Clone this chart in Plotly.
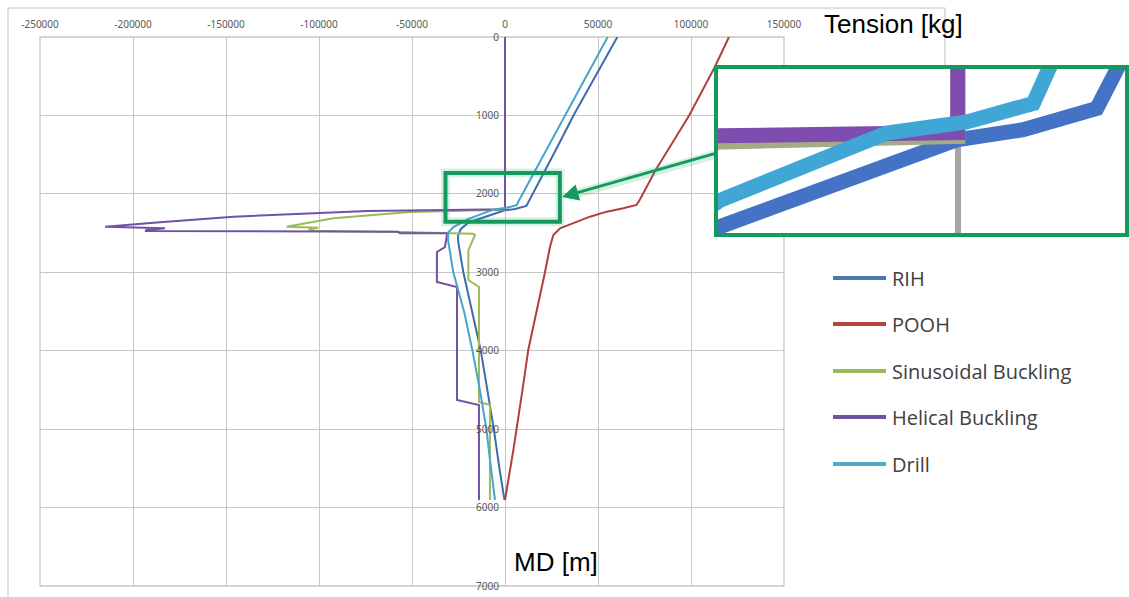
import plotly.graph_objects as go

W, H = 1129, 597

# ---- hook-load tension [kg] versus measured depth [m] ----
series_names = ["RIH", "POOH", "Sinusoidal Buckling", "Helical Buckling", "Drill"]

rih_kg = [60400, 48600, 36800, 27300, 19700, 13150, 11500, 5420, -70, -19660,
          -23800, -25300, -25100, -22400, -17500, -13000, -9500, -6000, -3000, -300]
rih_md = [0, 500, 1000, 1441, 1780, 2085, 2154, 2192, 2210, 2365,
          2450, 2540, 2620, 3000, 3500, 4000, 4500, 5000, 5500, 5903]

pooh_kg = [120400, 112800, 99000, 90800, 81000, 72400, 70700, 63600, 54700, 45700,
           36700, 29600, 26000, 24200, 21500, 17000, 12500, 9400, 6300, 4500, 0]
pooh_md = [0, 383, 1000, 1313, 1696, 2078, 2142, 2184, 2227, 2291,
           2376, 2439, 2525, 2674, 3000, 3500, 3991, 4500, 4990, 5266, 5903]

sin_kg = [0, 0, -51100, -92300, -117400, -100400, -105500, -104500, -56000, -17200,
          -16100, -18800, -19700, -19700, -14000, -14000, -8100, -8100]
sin_md = [0, 2204, 2230, 2312, 2419, 2431, 2455, 2470, 2485, 2508,
          2525, 2674, 2717, 3099, 3188, 4654, 4692, 5903]

hel_kg = [0, 0, -74000, -146000, -185500, -215000, -182800, -192600, -193500, -57500,
          -56500, -31300, -31200, -32300, -36600, -36600, -25800, -25800, -14000, -14000]
hel_md = [0, 2197, 2219, 2291, 2363, 2419, 2439, 2461, 2474, 2482,
          2503, 2503, 2525, 2678, 2741, 3124, 3188, 4628, 4692, 5903]

drill_kg = [55200, 43700, 32000, 22300, 14500, 7500, 6250, 740, -5880, -19660,
            -27500, -30500, -30600, -27800, -22000, -17500, -13500, -10000, -7500, -5400]
drill_md = [0, 500, 1000, 1441, 1780, 2085, 2145, 2178, 2198, 2318,
            2420, 2490, 2590, 3000, 3500, 4000, 4500, 5000, 5500, 5903]

x_ticks = [-250000, -200000, -150000, -100000, -50000, 0, 50000, 100000, 150000]
y_ticks = [0, 1000, 2000, 3000, 4000, 5000, 6000, 7000]

# zoomed detail window around the buckling onset
zoom_kg = [-20000, 14000]
zoom_md = [2080, 2380]
# region marked on the main plot
mark_kg = [-32000, 29500]
mark_md = [1735, 2355]

line_colors = ["#3E6CAD", "#B0403C", "#9BBB59", "#7252A4", "#45A6CA"]
inset_colors = ["#4472C4", "#B0403C", "#A4AC86", "#7E4DAF", "#3FA6D6"]
legend_colors = ["#4A79AD", "#B5453F", "#9BBB59", "#6E54A0", "#4BACC6"]
green = "#14995F"
grid = "#C6C6C6"
tick_font = dict(family="Noto Sans", size=10, color="#595959")


def px(x):
    return x / W


def py(y):
    return 1 - y / H


series = [(rih_kg, rih_md), (pooh_kg, pooh_md), (sin_kg, sin_md),
          (hel_kg, hel_md), (drill_kg, drill_md)]

fig = go.Figure()

for name, (kg, md), col in zip(series_names, series, line_colors):
    fig.add_trace(go.Scatter(x=kg, y=md, mode="lines", name=name,
                             line=dict(color=col, width=2),
                             xaxis="x", yaxis="y", showlegend=False))

for name, (kg, md), col in zip(series_names, series, inset_colors):
    fig.add_trace(go.Scatter(x=kg, y=md, mode="lines", name=name,
                             line=dict(color=col, width=15),
                             xaxis="x2", yaxis="y2", showlegend=False))

shapes = [
    # plot-area frame
    dict(type="rect", xref="x domain", yref="y domain", x0=0, x1=1, y0=0, y1=1,
         line=dict(color=grid, width=1.3), layer="below"),
    # chart-area border
    dict(type="line", xref="paper", yref="paper", x0=px(8), x1=px(8), y0=py(8), y1=0,
         line=dict(color="#BFBFBF", width=1)),
    dict(type="line", xref="paper", yref="paper", x0=px(8), x1=px(945), y0=py(8), y1=py(8),
         line=dict(color="#BFBFBF", width=1)),
    dict(type="line", xref="paper", yref="paper", x0=px(945), x1=px(945), y0=py(8), y1=py(67),
         line=dict(color="#BFBFBF", width=1)),
    # marked region on the main plot
    dict(type="rect", xref="x", yref="y", x0=mark_kg[0], x1=mark_kg[1],
         y0=mark_md[0], y1=mark_md[1], line=dict(color="rgba(40,180,110,0.18)", width=9)),
    dict(type="rect", xref="x", yref="y", x0=mark_kg[0], x1=mark_kg[1],
         y0=mark_md[0], y1=mark_md[1], line=dict(color=green, width=4)),
    # pointer glow
    dict(type="line", xref="paper", yref="paper", x0=px(717), y0=py(154), x1=px(568), y1=py(196),
         line=dict(color="rgba(40,180,110,0.2)", width=9)),
    # detail window border
    dict(type="rect", xref="x2 domain", yref="y2 domain", x0=0, x1=1, y0=0, y1=1,
         line=dict(color=green, width=4)),
]

annotations = [
    dict(x=px(562), y=py(197), ax=717 - 562, ay=153 - 197, xref="paper", yref="paper",
         text="", showarrow=True, arrowhead=2,
         arrowsize=1.1, arrowwidth=3, arrowcolor=green),
    dict(x=px(893), y=py(24), xref="paper", yref="paper", text="Tension [kg]",
         xanchor="center", yanchor="middle", showarrow=False,
         font=dict(family="Liberation Sans", size=26, color="black")),
    dict(x=px(556), y=py(562), xref="paper", yref="paper", text="MD [m]",
         xanchor="center", yanchor="middle", showarrow=False,
         font=dict(family="Liberation Sans", size=26, color="black")),
]

# legend
legend_rows = [278, 324, 371, 417, 464]
for name, col, row in zip(series_names, legend_colors, legend_rows):
    shapes.append(dict(type="line", xref="paper", yref="paper", x0=px(833), x1=px(886),
                       y0=py(row), y1=py(row), line=dict(color=col, width=4)))
    annotations.append(dict(x=px(890), y=py(row), xref="paper", yref="paper", text=name,
                            xanchor="left", yanchor="middle", showarrow=False,
                            font=dict(family="Open Sans", size=20, color="#404040")))

fig.update_layout(
    width=W, height=H,
    margin=dict(l=0, r=0, t=0, b=0, autoexpand=False),
    paper_bgcolor="white", plot_bgcolor="white",
    showlegend=False,
    xaxis=dict(domain=[px(40), px(784)], range=[x_ticks[0], x_ticks[-1]],
               tickvals=x_ticks, ticktext=[str(v) for v in x_ticks],
               side="top", anchor="y",
               showgrid=True, gridcolor=grid, gridwidth=1.3, zeroline=False,
               showline=False, ticks="", tickfont=tick_font, ticklabelstandoff=6,
               automargin=False),
    yaxis=dict(domain=[py(586), py(37)], range=[y_ticks[-1], y_ticks[0]],
               tickvals=y_ticks, ticktext=[str(v) for v in y_ticks],
               anchor="free", position=px(505),
               showgrid=True, gridcolor=grid, gridwidth=1.3, zeroline=False,
               showline=False, ticks="", tickfont=tick_font, ticklabelstandoff=6,
               automargin=False),
    xaxis2=dict(domain=[px(716), px(1127)], range=zoom_kg, anchor="y2",
                showgrid=False, showticklabels=False, ticks="", showline=False,
                zeroline=True, zerolinecolor="#A6A6A6", zerolinewidth=6,
                automargin=False),
    yaxis2=dict(domain=[py(235), py(67)], range=[zoom_md[1], zoom_md[0]], anchor="x2",
                showgrid=False, showticklabels=False, ticks="", showline=False,
                zeroline=False, automargin=False),
    shapes=shapes,
    annotations=annotations,
)

fig.write_html("out.html")
